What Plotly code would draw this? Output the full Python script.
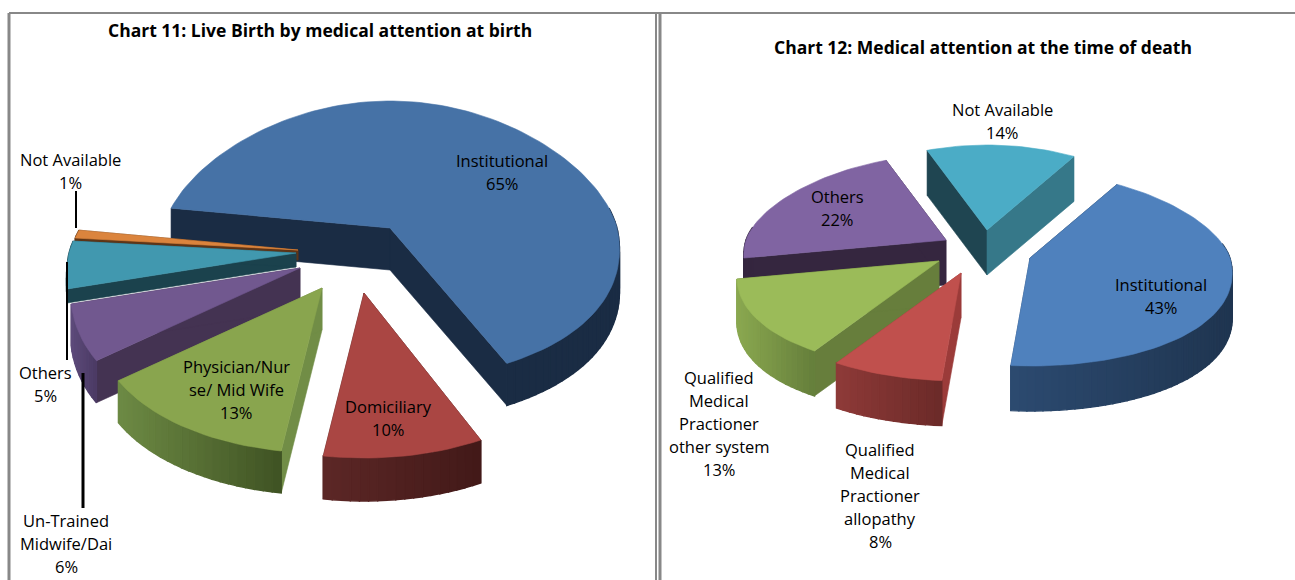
import math
import plotly.graph_objects as go

# ---- data ----
left_title = "Chart 11: Live Birth by medical attention at birth"
left_categories = ["Institutional", "Domiciliary", "Physician/Nurse/ Mid Wife",
                   "Un-Trained Midwife/Dai", "Others", "Not Available"]
left_values = [65, 10, 13, 6, 5, 1]

right_title = "Chart 12: Medical attention at the time of death"
right_categories = ["Institutional", "Qualified Medical Practioner allopathy",
                    "Qualified Medical Practioner other system", "Others", "Not Available"]
right_values = [43, 8, 13, 22, 14]

left_label_lines = [["Institutional"], ["Domiciliary"], ["Physician/Nur", "se/ Mid Wife"],
                    ["Un-Trained", "Midwife/Dai"], ["Others"], ["Not Available"]]
right_label_lines = [["Institutional"], ["Qualified", "Medical", "Practioner", "allopathy"],
                     ["Qualified", "Medical", "Practioner", "other system"], ["Others"], ["Not Available"]]

# ---- layout / style (pixel canvas) ----
W, H = 1295, 580
FONT = "Open Sans"
LEFT = dict(start=-81, rx=227, persp=34, ry_up=127, ry_down=[152, 165, 165, 165, 165, 165],
            depth=[42, 43, 42, 42, 14, 10],
            apex=[(390, 228), (364, 293), (322, 288), (300, 268), (296, 253), (298, 250)],
            top=["#4672A6", "#AA4643", "#89A54E", "#71588F", "#4198AF", "#DB843D"],
            arc=[("#1A2C44", "#1A2C44"), ("#5C2726", "#421918"), ("#6D8A44", "#3F5223"),
                 ("#5D4A7A", "#4A3A63"), ("#1B424D", "#1B424D"), ("#5E3517", "#5E3517")],
            rad=[("#1A2C44", "#1A2C44"), ("#421918", "#421918"), ("#718D46", "#718D46"),
                 ("#443352", "#443352"), ("#1B424D", "#1B424D"), ("#5E3517", "#5E3517")],
            order=[0, 5, 4, 3, 2, 1],
            label_xy=[(502, 172), (388, 418), (236, 389), (66, 543), (45, 384), (70, 171)])
RIGHT = dict(start=30, rx=200, persp=30, ry_up=85, ry_down=[108] * 5, depth=[45] * 5,
             apex=[(1030, 258), (961, 273), (939, 261), (946, 240), (987, 230)],
             top=["#4F81BD", "#C0504D", "#9BBB59", "#8064A2", "#4BACC6"],
             arc=[("#2C4A70", "#1F3550"), ("#8E3A38", "#6B2A28"), ("#8AA850", "#657E3B"),
                  ("#35263F", "#35263F"), ("#1F4551", "#367889")],
             rad=[("#1F3550", "#2C4A70"), ("#9B3B39", "#9B3B39"), ("#677E3C", "#677E3C"),
                  ("#35263F", "#35263F"), ("#1F4551", "#367889")],
             order=[4, 3, 0, 2, 1],
             label_xy=[(1161, 296), (880, 495), (719, 423), (837, 208), (1002, 121)])

LINE_H = 23


def rim(p, i, deg, apex):
    t = math.radians(deg)
    s, c = math.sin(t), math.cos(t)
    rx = p["rx"] - p["persp"] * c
    ry = p["ry_up"] if c > 0 else p["ry_down"][i]
    return apex[0] + s * rx, apex[1] - c * ry


def mix(a, b, f):
    ca = [int(a[i:i + 2], 16) for i in (1, 3, 5)]
    cb = [int(b[i:i + 2], 16) for i in (1, 3, 5)]
    return "#%02x%02x%02x" % tuple(round(x + (y - x) * f) for x, y in zip(ca, cb))


def poly(fig, xs, ys, color, name=None, lw=0.6):
    fig.add_trace(go.Scatter(x=xs + xs[:1], y=ys + ys[:1], mode="lines", fill="toself",
                             fillcolor=color, line=dict(color=color, width=lw),
                             showlegend=False, hoverinfo="text" if name else "skip",
                             text=name))


def draw_pie(fig, values, categories, p):
    total = sum(values)
    angles, a = [], p["start"]
    for v in values:
        angles.append((a, a + 360 * v / total))
        a += 360 * v / total
    for i in p["order"]:
        a0, a1 = angles[i]
        apex = p["apex"][i]
        d = p["depth"][i]
        n = max(3, int((a1 - a0) / 2))
        deg = [a0 + (a1 - a0) * k / n for k in range(n + 1)]
        pts = [rim(p, i, g, apex) for g in deg]
        # radial cut walls
        for end, colour in zip((pts[0], pts[-1]), p["rad"][i]):
            poly(fig, [apex[0], end[0], end[0], apex[0]],
                 [apex[1], end[1], end[1] + d, apex[1] + d], colour)
        # outer wall, shaded strip by strip from left to right on screen
        lx, rx_ = min(q[0] for q in pts), max(q[0] for q in pts)
        for k in range(n):
            q0, q1 = pts[k], pts[k + 1]
            if math.cos(math.radians(deg[k])) > 0.15 and math.cos(math.radians(deg[k + 1])) > 0.15:
                continue
            f = ((q0[0] + q1[0]) / 2 - lx) / max(rx_ - lx, 1)
            poly(fig, [q0[0], q1[0], q1[0], q0[0]], [q0[1], q1[1], q1[1] + d, q0[1] + d],
                 mix(p["arc"][i][0], p["arc"][i][1], f), lw=1.4)
        # top face
        poly(fig, [apex[0]] + [q[0] for q in pts], [apex[1]] + [q[1] for q in pts],
             p["top"][i], f"{categories[i]}: {values[i]}%")


fig = go.Figure()
draw_pie(fig, left_values, left_categories, LEFT)
draw_pie(fig, right_values, right_categories, RIGHT)


def text(x, y, s, size=16.5, bold=False):
    fig.add_annotation(x=x, y=y, text=f"<b>{s}</b>" if bold else s, showarrow=False,
                       xanchor="center", yanchor="middle",
                       font=dict(family=FONT, size=size, color="#000000"))


for lines, vals, xy in ((left_label_lines, left_values, LEFT["label_xy"]),
                        (right_label_lines, right_values, RIGHT["label_xy"])):
    for ln, v, (cx, cy) in zip(lines, vals, xy):
        rows = ln + [f"{v}%"]
        y0 = cy - (len(rows) - 1) * LINE_H / 2
        for j, r in enumerate(rows):
            text(cx, y0 + j * LINE_H, r)

text(320, 30, left_title, size=17.5, bold=True)
text(983, 47, right_title, size=17.5, bold=True)

shapes = []
for x0, y0, x1, y1, col, w in [
    (9, 13, 9, 580, "#888888", 3), (9, 13, 1295, 13, "#888888", 2),
    (656, 13, 656, 580, "#888888", 2), (660, 13, 660, 580, "#888888", 3),
    (76, 191, 76, 228, "#000000", 2), (67, 262, 67, 360, "#000000", 2),
    (83, 373, 83, 508, "#000000", 3),
]:
    shapes.append(dict(type="line", x0=x0, y0=y0, x1=x1, y1=y1, layer="above",
                       line=dict(color=col, width=w)))

fig.update_layout(width=W, height=H, margin=dict(l=0, r=0, t=0, b=0),
                  paper_bgcolor="white", plot_bgcolor="white", shapes=shapes,
                  xaxis=dict(range=[0, W], visible=False, fixedrange=True),
                  yaxis=dict(range=[H, 0], visible=False, fixedrange=True))
fig.write_html("out.html", config=dict(displayModeBar=False),
               post_script="document.body.style.margin='0';document.body.style.overflow='hidden';")
